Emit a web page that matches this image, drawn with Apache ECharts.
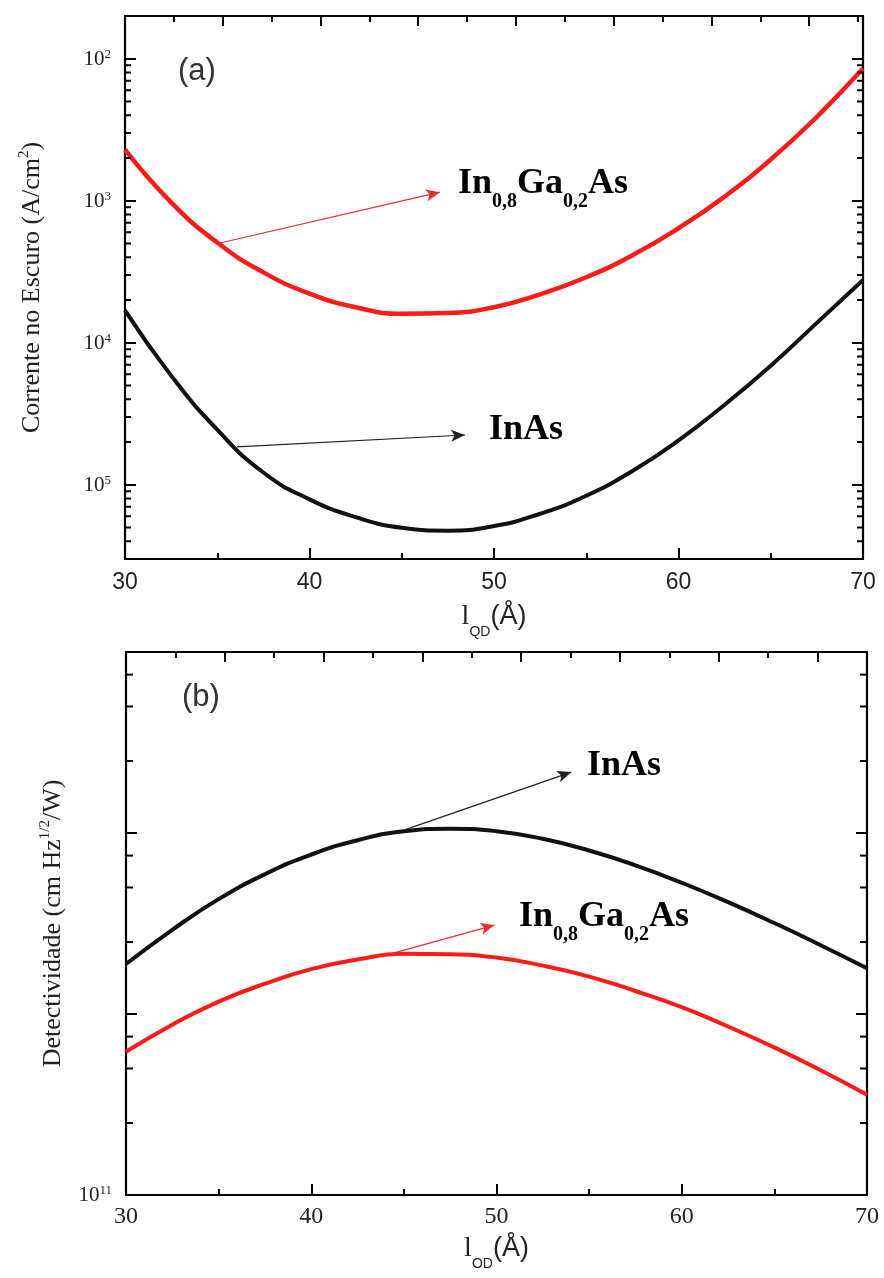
<!DOCTYPE html>
<html>
<head>
<meta charset="utf-8">
<script src="https://cdn.jsdelivr.net/npm/echarts@6/dist/echarts.min.js"></script>
<style>html,body{margin:0;padding:0;background:#fff}#c{width:884px;height:1278px}</style>
</head>
<body>
<div id="c"></div>
<script>
// ---------- DATA ----------
const lqd = [30, 32.5, 35, 37.5, 40, 42.5, 45, 47.5, 50, 52.5, 55, 57.5, 60, 62.5, 65, 67.5, 70];
// (a) dark current, A/cm^2
const darkInGaAs = [2.29e-3, 9.75e-4, 5.08e-4, 3.13e-4, 2.22e-4, 1.78e-4, 1.60e-4, 1.62e-4, 1.78e-4, 2.19e-4, 2.89e-4, 4.13e-4, 6.40e-4, 1.07e-3, 1.95e-3, 3.90e-3, 8.53e-3];
const darkInAs   = [1.69e-4, 5.87e-5, 2.44e-5, 1.22e-5, 7.89e-6, 5.92e-6, 4.98e-6, 4.75e-6, 5.12e-6, 6.25e-6, 8.36e-6, 1.25e-5, 2.05e-5, 3.66e-5, 6.90e-5, 1.38e-4, 2.77e-4];
// (b) detectivity, cm Hz^1/2 / W
const detInAs    = [1.89e12, 2.92e12, 4.31e12, 5.92e12, 7.60e12, 9.12e12, 1.023e13, 1.057e13, 1.023e13, 9.29e12, 8.00e12, 6.62e12, 5.31e12, 4.15e12, 3.18e12, 2.40e12, 1.79e12];
const detInGaAs  = [6.19e11, 8.73e11, 1.17e12, 1.47e12, 1.77e12, 2.00e12, 2.15e12, 2.14e12, 2.05e12, 1.85e12, 1.61e12, 1.34e12, 1.09e12, 8.53e11, 6.53e11, 4.89e11, 3.58e11];
// tick values
const xTicks = [30, 40, 50, 60, 70];
const yMajorA = [1e-5, 1e-4, 1e-3, 1e-2];
const yMinorA = [3e-6,4e-6,5e-6,6e-6,7e-6,8e-6,9e-6, 2e-5,3e-5,4e-5,5e-5,6e-5,7e-5,8e-5,9e-5, 2e-4,3e-4,4e-4,5e-4,6e-4,7e-4,8e-4,9e-4, 2e-3,3e-3,4e-3,5e-3,6e-3,7e-3,8e-3,9e-3];
const yMajorB = [1e11, 1e12, 1e13, 1e14];
const yMinorB = [2.5e11, 5e11, 7.5e11, 2.5e12, 5e12, 7.5e12, 2.5e13, 5e13, 7.5e13];
// arrows [start, end] in data units
const arrowA_red   = [[35.15, 5.04e-4], [47.07, 1.15e-3]];
const arrowA_black = [[36.07, 1.85e-5], [48.43, 2.24e-5]];
const arrowB_black = [[45.04, 1.04e13], [54.04, 2.17e13]];
const arrowB_red   = [[44.23, 2.14e12], [49.89, 3.10e12]];

// ---------- STYLE ----------
const RED = '#ff1a1a', BLACK = '#111';
const SERIF = '"Liberation Serif", "DejaVu Serif", serif';
const SANS = '"Liberation Sans", Arial, sans-serif';

const chart = echarts.init(document.getElementById('c'));

function pairs(xs, ys) { return xs.map((x, i) => [x, ys[i]]); }
function isPow10(v) { const e = Math.log10(v); return Math.abs(e - Math.round(e)) < 1e-6; }

const axisLine = { show: true, onZero: false, lineStyle: { color: '#000', width: 2.2 } };

function bottomX(grid, fontFamily, sub, gap, labelMargin, fontSize) {
  return {
    type: 'value', gridIndex: grid, position: 'bottom', min: 30, max: 70, interval: 10,
    axisLine: axisLine,
    axisTick: { show: true, inside: true, length: 11, lineStyle: { color: '#000', width: 2 } },
    minorTick: { show: true, splitNumber: 2, length: 6, lineStyle: { color: '#000', width: 2 } },
    splitLine: { show: false },
    axisLabel: { color: '#222', fontFamily: fontFamily, fontSize: fontSize, margin: labelMargin,
      formatter: v => xTicks.indexOf(v) >= 0 ? String(v) : '' },
    name: '{l|l}{s|' + sub + '}{p|(Å)}', nameLocation: 'middle', nameGap: gap,
    nameTextStyle: { rich: {
      l: { fontFamily: SERIF, fontSize: 28, color: '#222', lineHeight: 30, verticalAlign: 'top' },
      s: { fontFamily: SANS, fontSize: 14, color: '#222', lineHeight: 14, padding: [22, 0, 0, 0], verticalAlign: 'top' },
      p: { fontFamily: SANS, fontSize: 27, color: '#222', lineHeight: 30, verticalAlign: 'top' }
    } }
  };
}
function topX(grid, max) {
  return {
    type: 'value', gridIndex: grid, position: 'top', min: 0, max: max, interval: 2,
    axisLine: axisLine,
    axisTick: { show: true, inside: true, length: 10, lineStyle: { color: '#000', width: 2 } },
    minorTick: { show: true, splitNumber: 2, length: 6, lineStyle: { color: '#000', width: 2 } },
    splitLine: { show: false }, axisLabel: { show: false }
  };
}
function logY(grid, min, max, pos, labels, name, nameGap) {
  const ax = {
    type: 'log', logBase: 10, gridIndex: grid, position: pos, min: min, max: max,
    axisLine: axisLine,
    axisTick: { show: true, inside: true, length: 11, lineStyle: { color: '#000', width: 2 } },
    minorTick: { show: false }, splitLine: { show: false },
    axisLabel: { show: false }
  };
  if (labels) {
    ax.axisLabel = { show: true, margin: 14, formatter: labels,
      rich: {
        b: { fontFamily: SERIF, fontSize: 21, color: '#222', lineHeight: 22, verticalAlign: 'bottom' },
        s: { fontFamily: SERIF, fontSize: 13, color: '#222', lineHeight: 12, verticalAlign: 'top' }
      } };
    ax.name = name; ax.nameLocation = 'middle'; ax.nameGap = nameGap; ax.nameRotate = 90;
    ax.nameTextStyle = { rich: {
      b: { fontFamily: SERIF, fontSize: 26, color: '#222', lineHeight: 28, verticalAlign: 'bottom' },
      s: { fontFamily: SERIF, fontSize: 15, color: '#222', lineHeight: 15, verticalAlign: 'top' }
    } };
  }
  return ax;
}

function minorTicks(xi, yi, values, xmin, xmax, len) {
  return {
    type: 'custom', xAxisIndex: xi, yAxisIndex: yi, silent: true, clip: false, z: 5,
    data: values.map(v => [xmin, v]),
    renderItem: function (params, api) {
      const v = api.value(1);
      const p1 = api.coord([xmin, v]);
      const p2 = api.coord([xmax, v]);
      return { type: 'group', children: [
        { type: 'line', shape: { x1: p1[0], y1: p1[1], x2: p1[0] + len, y2: p1[1] }, style: { stroke: '#000', lineWidth: 2 } },
        { type: 'line', shape: { x1: p2[0], y1: p2[1], x2: p2[0] - len, y2: p2[1] }, style: { stroke: '#000', lineWidth: 2 } }
      ] };
    }
  };
}
function arrow(seg, color) {
  return { silent: true, symbol: ['none', 'arrow'], symbolSize: [9, 14], label: { show: false },
    lineStyle: { color: color, width: 1.2, type: 'solid' },
    data: [[{ coord: seg[0] }, { coord: seg[1] }]] };
}

const subRich = (color) => ({
  b: { fontFamily: SERIF, fontWeight: 'bold', fontSize: 36, color: color, lineHeight: 36, verticalAlign: 'top' },
  s: { fontFamily: SERIF, fontWeight: 'bold', fontSize: 20, color: color, lineHeight: 20, padding: [26, 0, 0, 0], verticalAlign: 'top' }
});

const option = {
  animation: false,
  backgroundColor: '#fff',
  grid: [
    { left: 125, right: 21, top: 16, height: 543, containLabel: false },
    { left: 126, right: 17, top: 652, height: 543, containLabel: false }
  ],
  xAxis: [
    bottomX(0, SANS, 'QD', 44, 12, 23),
    topX(0, 15.1),
    bottomX(1, SERIF, 'OD', 40, 10, 24),
    topX(1, 15.0)
  ],
  yAxis: [
    logY(0, 3e-6, 2e-2, 'left', v => (isPow10(v) && yMajorA.some(m => Math.abs(m - v) / m < 1e-6)) ? '{b|10}{s|' + Math.abs(Math.round(Math.log10(v))) + '}' : '',
      '{b|Corrente no Escuro (A/cm}{s|2}{b|)}', 80),
    logY(0, 3e-6, 2e-2, 'right', null),
    logY(1, 1e11, 1e14, 'left', v => (Math.abs(v - yMajorB[0]) / yMajorB[0] < 1e-6) ? '{b|10}{s|11}' : '',
      '{b|Detectividade (cm Hz}{s|1/2}{b|/W)}', 60),
    logY(1, 1e11, 1e14, 'right', null)
  ],
  series: [
    { type: 'line', name: 'In0,8Ga0,2As', xAxisIndex: 0, yAxisIndex: 0, data: pairs(lqd, darkInGaAs), smooth: true,
      showSymbol: false, lineStyle: { color: RED, width: 4.5 }, markLine: arrow(arrowA_red, '#e03030') },
    { type: 'line', name: 'InAs', xAxisIndex: 0, yAxisIndex: 0, data: pairs(lqd, darkInAs), smooth: true,
      showSymbol: false, lineStyle: { color: BLACK, width: 4 }, markLine: arrow(arrowA_black, '#222') },
    { type: 'line', name: 'InAs', xAxisIndex: 2, yAxisIndex: 2, data: pairs(lqd, detInAs), smooth: true,
      showSymbol: false, lineStyle: { color: BLACK, width: 4 }, markLine: arrow(arrowB_black, '#222') },
    { type: 'line', name: 'In0,8Ga0,2As', xAxisIndex: 2, yAxisIndex: 2, data: pairs(lqd, detInGaAs), smooth: true,
      showSymbol: false, lineStyle: { color: RED, width: 4 }, markLine: arrow(arrowB_red, '#e03030') },
    minorTicks(0, 0, yMinorA, 30, 70, 6),
    minorTicks(2, 2, yMinorB, 30, 70, 7)
  ],
  graphic: [
    { type: 'text', x: 178, y: 56, style: { text: '(a)', font: '31px ' + SANS, fill: '#333' } },
    { type: 'text', x: 182, y: 682, style: { text: '(b)', font: '31px ' + SANS, fill: '#333' } },
    { type: 'text', x: 458, y: 166, style: { text: '{b|In}{s|0,8}{b|Ga}{s|0,2}{b|As}', rich: subRich(RED) } },
    { type: 'text', x: 489, y: 412, style: { text: '{b|InAs}', rich: subRich('#222') } },
    { type: 'text', x: 587, y: 748, style: { text: '{b|InAs}', rich: subRich('#222') } },
    { type: 'text', x: 519, y: 899, style: { text: '{b|In}{s|0,8}{b|Ga}{s|0,2}{b|As}', rich: subRich(RED) } }
  ]
};
chart.setOption(option);
</script>
</body>
</html>
